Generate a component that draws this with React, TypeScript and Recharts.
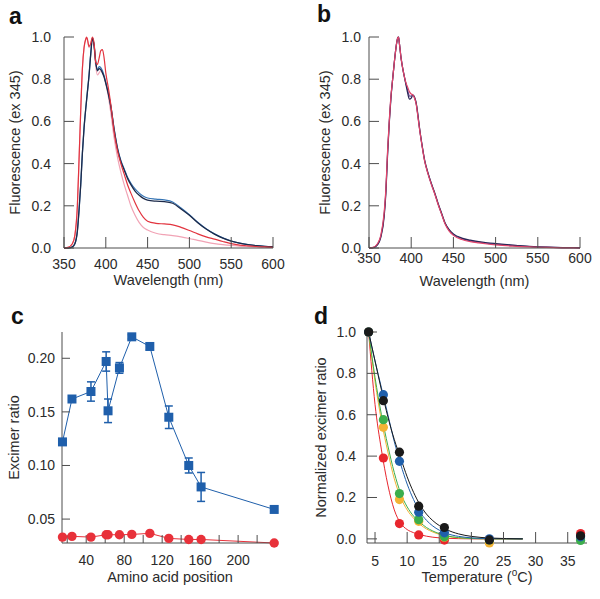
import React from 'react';
import { LineChart, Line, XAxis, YAxis, ErrorBar, Label } from 'recharts';

const FONT = '"Liberation Sans", Arial, Helvetica, sans-serif';
const AXIS = '#4d4d4d';
const TEXT = '#2b2b2b';

// ---------- Panel a: emission spectra ----------
const wavelengthsA = [350, 355, 360, 363, 366, 368, 370, 372, 374, 376, 377, 378, 380, 382, 384, 386, 388, 390, 392, 394, 396, 398, 400, 403, 406, 410, 414, 418, 422, 426, 430, 435, 440, 445, 450, 460, 470, 480, 490, 500, 510, 520, 530, 540, 550, 560, 570, 580, 590, 600];
const navyA = [0, 0, 0.005, 0.02, 0.08, 0.18, 0.3, 0.45, 0.57, 0.66, 0.7, 0.74, 0.82, 0.92, 0.995, 0.96, 0.88, 0.84, 0.85, 0.845, 0.83, 0.81, 0.78, 0.73, 0.67, 0.56, 0.47, 0.41, 0.37, 0.33, 0.3, 0.27, 0.25, 0.235, 0.227, 0.222, 0.22, 0.212, 0.185, 0.155, 0.12, 0.09, 0.066, 0.047, 0.033, 0.023, 0.016, 0.011, 0.008, 0.006];
const blueA = [0, 0, 0.005, 0.02, 0.08, 0.18, 0.3, 0.45, 0.57, 0.66, 0.7, 0.74, 0.82, 0.92, 0.995, 0.96, 0.88, 0.845, 0.86, 0.855, 0.84, 0.815, 0.785, 0.735, 0.675, 0.565, 0.475, 0.415, 0.375, 0.335, 0.307, 0.28, 0.26, 0.245, 0.237, 0.232, 0.228, 0.218, 0.19, 0.158, 0.122, 0.091, 0.067, 0.048, 0.033, 0.023, 0.016, 0.011, 0.008, 0.006];
const redA = [0, 0.003, 0.02, 0.06, 0.2, 0.42, 0.65, 0.85, 0.95, 0.99, 1.0, 0.99, 0.955, 0.97, 1.0, 0.97, 0.88, 0.87, 0.9, 0.935, 0.94, 0.9, 0.83, 0.76, 0.68, 0.55, 0.46, 0.4, 0.35, 0.3, 0.26, 0.215, 0.175, 0.145, 0.127, 0.117, 0.114, 0.11, 0.098, 0.083, 0.067, 0.053, 0.042, 0.031, 0.021, 0.014, 0.01, 0.007, 0.005, 0.003];
const pinkA = [0, 0.003, 0.02, 0.06, 0.2, 0.42, 0.65, 0.85, 0.95, 0.99, 0.995, 0.985, 0.95, 0.965, 0.995, 0.95, 0.86, 0.82, 0.83, 0.84, 0.83, 0.81, 0.78, 0.72, 0.64, 0.52, 0.43, 0.36, 0.3, 0.25, 0.2, 0.155, 0.12, 0.097, 0.085, 0.07, 0.063, 0.059, 0.053, 0.045, 0.036, 0.028, 0.021, 0.016, 0.012, 0.009, 0.007, 0.005, 0.004, 0.004];

// ---------- Panel b: emission spectra ----------
const wavelengthsB = [350, 355, 360, 364, 368, 370, 372, 374, 376, 378, 380, 382, 384, 385, 386, 388, 390, 392, 394, 396, 398, 400, 402, 404, 406, 408, 410, 413, 416, 420, 424, 428, 432, 436, 440, 445, 450, 460, 470, 480, 490, 500, 520, 540, 560, 580, 600];
const redB = [0, 0.003, 0.02, 0.06, 0.17, 0.28, 0.46, 0.6, 0.72, 0.8, 0.88, 0.95, 0.995, 1.0, 0.97, 0.9, 0.85, 0.81, 0.78, 0.76, 0.74, 0.73, 0.725, 0.71, 0.68, 0.62, 0.56, 0.48, 0.41, 0.35, 0.3, 0.255, 0.205, 0.16, 0.115, 0.08, 0.06, 0.04, 0.03, 0.024, 0.019, 0.015, 0.009, 0.005, 0.003, 0.001, 0];
const navyB = [0, 0.002, 0.015, 0.05, 0.15, 0.26, 0.44, 0.59, 0.71, 0.8, 0.88, 0.95, 0.995, 1.0, 0.97, 0.9, 0.85, 0.81, 0.77, 0.73, 0.705, 0.71, 0.725, 0.715, 0.685, 0.63, 0.565, 0.485, 0.415, 0.355, 0.305, 0.26, 0.21, 0.165, 0.12, 0.087, 0.067, 0.047, 0.037, 0.03, 0.025, 0.021, 0.014, 0.008, 0.004, 0.002, 0.001];
const purpleB = [0, 0.002, 0.017, 0.055, 0.16, 0.27, 0.45, 0.6, 0.715, 0.8, 0.88, 0.95, 0.995, 1.0, 0.97, 0.9, 0.85, 0.81, 0.775, 0.745, 0.72, 0.72, 0.725, 0.712, 0.683, 0.625, 0.562, 0.482, 0.412, 0.352, 0.302, 0.257, 0.207, 0.162, 0.118, 0.084, 0.064, 0.044, 0.034, 0.028, 0.022, 0.018, 0.012, 0.007, 0.004, 0.002, 0.001];

// ---------- Panel c: excimer ratio vs position ----------
const positions = [15, 25, 45, 61, 63, 75, 88, 107, 127, 148, 161, 238];
const blueRatio = [0.122, 0.162, 0.169, 0.197, 0.151, 0.191, 0.22, 0.211, 0.145, 0.1, 0.08, 0.059];
const blueErr = [0, 0, 0.009, 0.009, 0.011, 0.005, 0.002, 0.003, 0.0105, 0.007, 0.0135, 0];
const redRatio = [0.0332, 0.0339, 0.0332, 0.0354, 0.0354, 0.0354, 0.0357, 0.0367, 0.032, 0.031, 0.031, 0.0277];

// ---------- Panel d: normalized excimer ratio vs temperature ----------
const temps = [4, 6.3, 8.8, 11.8, 15.8, 22.8, 37];
const blackPts = [1, 0.668, 0.419, 0.158, 0.055, -0.005, 0.015];
const bluePts = [1, 0.697, 0.375, 0.129, 0.029, 0.0, 0.01];
const greenPts = [1, 0.576, 0.219, 0.093, 0.01, -0.005, -0.008];
const yellowPts = [1, 0.539, 0.19, 0.085, 0.008, -0.02, 0.0];
const redPts = [1, 0.391, 0.074, 0.019, -0.006, -0.003, 0.026];

const fitTemps = [4, 5, 6, 7, 8, 9, 10, 11, 12, 13, 14, 16, 18, 20, 23, 28];
const blackFit = [1, 0.86, 0.72, 0.59, 0.48, 0.39, 0.3, 0.225, 0.165, 0.12, 0.088, 0.047, 0.024, 0.012, 0.004, 0];
const blueFit = [1, 0.86, 0.73, 0.6, 0.47, 0.36, 0.265, 0.19, 0.13, 0.09, 0.062, 0.028, 0.012, 0.005, 0.001, 0];
const greenFit = [1, 0.78, 0.6, 0.45, 0.32, 0.22, 0.155, 0.11, 0.08, 0.055, 0.038, 0.016, 0.006, 0.002, 0, 0];
const yellowFit = [1, 0.76, 0.57, 0.42, 0.29, 0.2, 0.14, 0.1, 0.07, 0.048, 0.033, 0.014, 0.005, 0.002, 0, 0];
const redFit = [1, 0.65, 0.43, 0.26, 0.14, 0.075, 0.045, 0.03, 0.02, 0.013, 0.008, 0.003, 0.001, 0, 0, 0];

const ticksA = [350, 400, 450, 500, 550, 600];
const ticksFluo = [0, 0.2, 0.4, 0.6, 0.8, 1.0];
const ticksPos = [20, 40, 60, 80, 100, 120, 140, 160, 180, 200, 220];
const ticksRatio = [0.05, 0.1, 0.15, 0.2];
const ticksTemp = [5, 10, 15, 20, 25, 30, 35];

// tables built from arrays
const specA = wavelengthsA.map((w, i) => ({ w, navy: navyA[i], blue: blueA[i], red: redA[i], pink: pinkA[i] }));
const specB = wavelengthsB.map((w, i) => ({ w, red: redB[i], navy: navyB[i], purple: purpleB[i] }));
const ratioData = positions.map((p, i) => ({ p, blue: blueRatio[i], err: blueErr[i], red: redRatio[i] }));
const toPts = (vals: number[]) => temps.map((t, i) => ({ t, v: vals[i] }));
const toFit = (vals: number[]) => fitTemps.map((t, i) => ({ t, v: vals[i] }));

const C_NAVY = '#1c2a4a';
const C_BLUE_A = '#3574b4';
const C_RED = '#e2343f';
const C_PINK = '#f1a3b5';
const C_RED_B = '#e2456a';
const C_NAVY_B = '#2a2656';
const C_PURPLE_B = '#6e4a92';
const C_BLUE = '#1f5fab';
const C_RED_C = '#e8313a';

const D_COLORS = {
  black: '#1a1a1a',
  blue: '#1f5fab',
  green: '#3cae4c',
  yellow: '#f3b334',
  red: '#e8262e',
};

const axisLine = { stroke: AXIS, strokeWidth: 1 };
const tickLine = { stroke: AXIS, strokeWidth: 1 };
const tickStyle = { fill: TEXT, fontSize: 14 };

const SquareDot = (props: any) => {
  const { cx, cy, index } = props;
  if (cx == null || cy == null) return <g key={`sq-${index}`} />;
  return <rect key={`sq-${index}`} x={cx - 4.5} y={cy - 4.5} width={9} height={9} fill={C_BLUE} />;
};

const TempLabel = (props: any) => {
  const vb = props.viewBox || { x: 0, y: 0, width: 0, height: 0 };
  const cx = vb.x + vb.width / 2;
  const y = vb.y + vb.height - 17;
  return (
    <text x={cx} y={y} textAnchor="middle" fontSize={14.5} fill={TEXT}>
      Temperature (<tspan dy={-6} fontSize={10}>o</tspan>
      <tspan dy={6}>C)</tspan>
    </text>
  );
};

const letterStyle = (left: number, top: number): React.CSSProperties => ({
  position: 'absolute',
  left,
  top,
  fontSize: 23,
  fontWeight: 'bold',
  lineHeight: 1,
  color: '#111',
  fontFamily: FONT,
});

export default function App() {
  return (
    <div style={{ position: 'absolute', left: 0, top: 0, width: 600, height: 599, background: '#fff', fontFamily: FONT, overflow: 'hidden' }}>
      {/* Panel a */}
      <div style={{ position: 'absolute', left: 0, top: 0 }}>
        <LineChart width={300} height={290} data={specA} margin={{ top: 37, right: 27, bottom: 0, left: 0 }}>
          <XAxis dataKey="w" type="number" domain={[350, 600]} ticks={ticksA} height={42}
            axisLine={axisLine} tickLine={tickLine} tick={tickStyle} tickSize={-11} tickMargin={22}>
            <Label value="Wavelength (nm)" position="insideBottom" offset={5} fill={TEXT} fontSize={14.5} />
          </XAxis>
          <YAxis type="number" domain={[0, 1]} ticks={ticksFluo} width={64}
            axisLine={axisLine} tickLine={tickLine} tick={tickStyle} tickSize={-10} tickMargin={23}
            tickFormatter={(v: number) => v.toFixed(1)}>
            <Label value="Fluorescence (ex 345)" angle={-90} position="insideLeft" offset={15}
              fill={TEXT} fontSize={14.5} style={{ textAnchor: 'middle' }} />
          </YAxis>
          <Line type="monotone" dataKey="pink" stroke={C_PINK} strokeWidth={1.2} dot={false} activeDot={false} isAnimationActive={false} />
          <Line type="monotone" dataKey="blue" stroke={C_BLUE_A} strokeWidth={1.2} dot={false} activeDot={false} isAnimationActive={false} />
          <Line type="monotone" dataKey="navy" stroke={C_NAVY} strokeWidth={1.3} dot={false} activeDot={false} isAnimationActive={false} />
          <Line type="monotone" dataKey="red" stroke={C_RED} strokeWidth={1.2} dot={false} activeDot={false} isAnimationActive={false} />
        </LineChart>
      </div>

      {/* Panel b */}
      <div style={{ position: 'absolute', left: 300, top: 0 }}>
        <LineChart width={300} height={290} data={specB} margin={{ top: 37, right: 20, bottom: 0, left: 0 }}>
          <XAxis dataKey="w" type="number" domain={[350, 600]} ticks={ticksA} height={42}
            axisLine={axisLine} tickLine={tickLine} tick={tickStyle} tickSize={-11} tickMargin={16}>
            <Label value="Wavelength (nm)" position="insideBottom" offset={4} fill={TEXT} fontSize={14.5} />
          </XAxis>
          <YAxis type="number" domain={[0, 1]} ticks={ticksFluo} width={69}
            axisLine={axisLine} tickLine={tickLine} tick={tickStyle} tickSize={-10} tickMargin={18}
            tickFormatter={(v: number) => v.toFixed(1)}>
            <Label value="Fluorescence (ex 345)" angle={-90} position="insideLeft" offset={25}
              fill={TEXT} fontSize={14.5} style={{ textAnchor: 'middle' }} />
          </YAxis>
          <Line type="monotone" dataKey="purple" stroke={C_PURPLE_B} strokeWidth={1.2} dot={false} activeDot={false} isAnimationActive={false} />
          <Line type="monotone" dataKey="navy" stroke={C_NAVY_B} strokeWidth={1.2} dot={false} activeDot={false} isAnimationActive={false} />
          <Line type="monotone" dataKey="red" stroke={C_RED_B} strokeWidth={1.2} dot={false} activeDot={false} isAnimationActive={false} />
        </LineChart>
      </div>

      {/* Panel c */}
      <div style={{ position: 'absolute', left: 0, top: 300 }}>
        <LineChart width={300} height={299} data={ratioData} margin={{ top: 32, right: 22, bottom: 0, left: 0 }}>
          <XAxis dataKey="p" type="number" domain={[14.5, 242]} ticks={ticksPos} height={56}
            axisLine={axisLine} tickLine={tickLine} tick={tickStyle} tickSize={-8} tickMargin={20}
            tickFormatter={(v: number) => (v % 40 === 0 ? String(v) : '')}>
            <Label value="Amino acid position" position="insideBottom" offset={17} fill={TEXT} fontSize={14.5} />
          </XAxis>
          <YAxis type="number" domain={[0.0277, 0.2245]} ticks={ticksRatio} width={62}
            axisLine={axisLine} tickLine={tickLine} tick={tickStyle} tickSize={-8} tickMargin={15}
            tickFormatter={(v: number) => v.toFixed(2)}>
            <Label value="Excimer ratio" angle={-90} position="insideLeft" offset={14}
              fill={TEXT} fontSize={14.5} style={{ textAnchor: 'middle' }} />
          </YAxis>
          <Line type="linear" dataKey="red" stroke={C_RED_C} strokeWidth={1}
            dot={{ r: 4.7, fill: C_RED_C, stroke: 'none' }} activeDot={false} isAnimationActive={false} />
          <Line type="linear" dataKey="blue" stroke={C_BLUE} strokeWidth={1}
            dot={(p: any) => <SquareDot key={`sq-${p.index}`} {...p} />} activeDot={false} isAnimationActive={false}>
            <ErrorBar dataKey="err" width={4} strokeWidth={1.5} stroke={C_BLUE} direction="y" />
          </Line>
        </LineChart>
      </div>

      {/* Panel d */}
      <div style={{ position: 'absolute', left: 300, top: 300 }}>
        <LineChart width={300} height={299} margin={{ top: 32, right: 13, bottom: 0, left: 0 }}>
          <XAxis dataKey="t" type="number" domain={[3.75, 38]} ticks={ticksTemp} height={56}
            axisLine={axisLine} tickLine={tickLine} tick={tickStyle} tickSize={-11} tickMargin={24}
            allowDuplicatedCategory={false}>
            <Label content={<TempLabel />} />
          </XAxis>
          <YAxis type="number" domain={[-0.02, 1]} ticks={ticksFluo} width={67}
            axisLine={axisLine} tickLine={tickLine} tick={tickStyle} tickSize={-10} tickMargin={21}
            tickFormatter={(v: number) => v.toFixed(1)}>
            <Label value="Normalized excimer ratio" angle={-90} position="insideLeft" offset={21}
              fill={TEXT} fontSize={14.5} style={{ textAnchor: 'middle' }} />
          </YAxis>
          <Line data={toFit(redFit)} type="monotone" dataKey="v" stroke={D_COLORS.red} strokeWidth={1} dot={false} activeDot={false} isAnimationActive={false} />
          <Line data={toFit(yellowFit)} type="monotone" dataKey="v" stroke={D_COLORS.yellow} strokeWidth={1} dot={false} activeDot={false} isAnimationActive={false} />
          <Line data={toFit(greenFit)} type="monotone" dataKey="v" stroke={D_COLORS.green} strokeWidth={1} dot={false} activeDot={false} isAnimationActive={false} />
          <Line data={toFit(blueFit)} type="monotone" dataKey="v" stroke={D_COLORS.blue} strokeWidth={1} dot={false} activeDot={false} isAnimationActive={false} />
          <Line data={toFit(blackFit)} type="monotone" dataKey="v" stroke={D_COLORS.black} strokeWidth={1} dot={false} activeDot={false} isAnimationActive={false} />
          <Line data={toPts(redPts)} dataKey="v" stroke="none" dot={{ r: 4.6, fill: D_COLORS.red, stroke: 'none' }} activeDot={false} isAnimationActive={false} />
          <Line data={toPts(yellowPts)} dataKey="v" stroke="none" dot={{ r: 4.6, fill: D_COLORS.yellow, stroke: 'none' }} activeDot={false} isAnimationActive={false} />
          <Line data={toPts(greenPts)} dataKey="v" stroke="none" dot={{ r: 4.6, fill: D_COLORS.green, stroke: 'none' }} activeDot={false} isAnimationActive={false} />
          <Line data={toPts(bluePts)} dataKey="v" stroke="none" dot={{ r: 4.6, fill: D_COLORS.blue, stroke: 'none' }} activeDot={false} isAnimationActive={false} />
          <Line data={toPts(blackPts)} dataKey="v" stroke="none" dot={{ r: 4.6, fill: D_COLORS.black, stroke: 'none' }} activeDot={false} isAnimationActive={false} />
        </LineChart>
      </div>

      <div style={letterStyle(9, 5)}>a</div>
      <div style={letterStyle(317, 3)}>b</div>
      <div style={letterStyle(11, 305)}>c</div>
      <div style={letterStyle(314, 305)}>d</div>
    </div>
  );
}
